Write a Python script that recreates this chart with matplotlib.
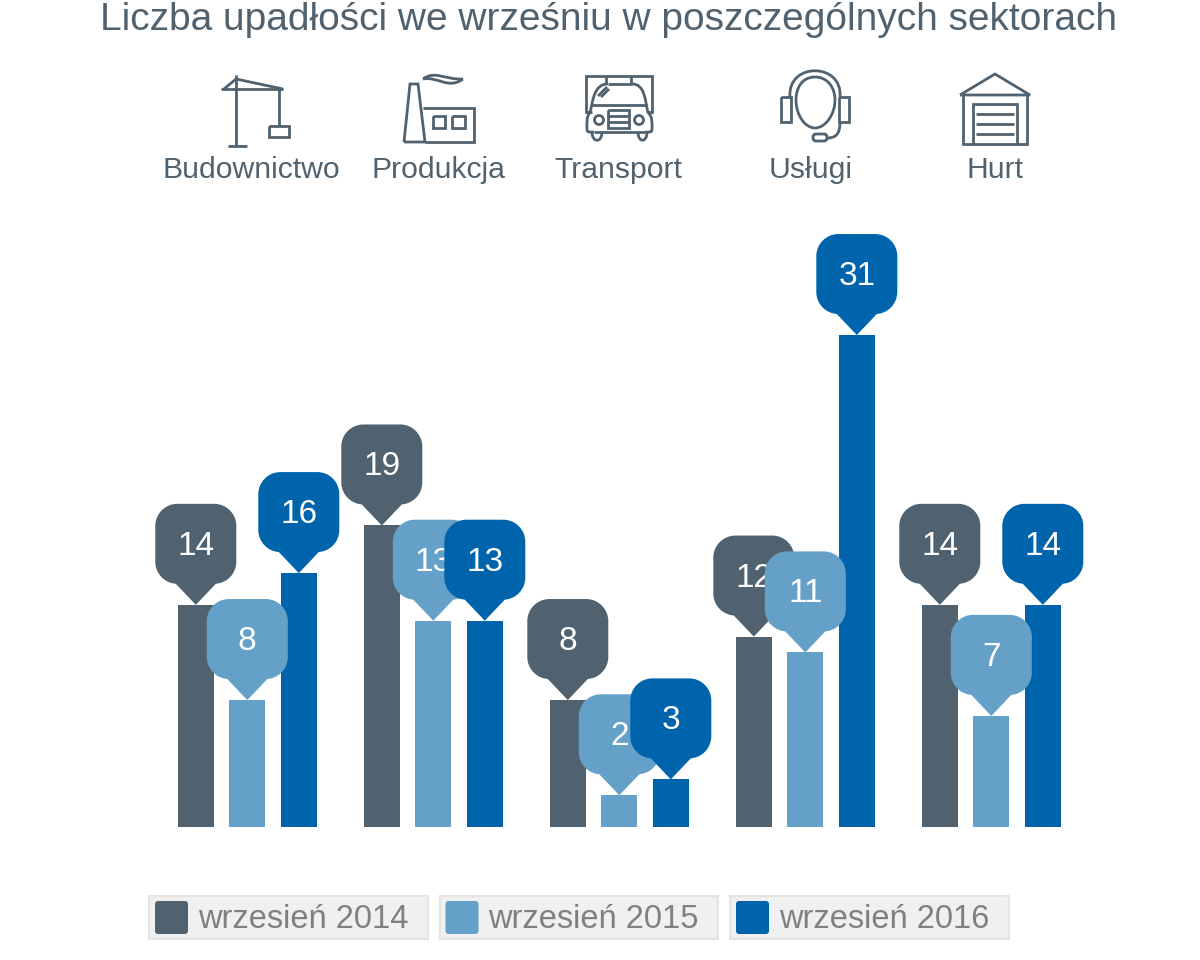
import matplotlib
matplotlib.use('Agg')
import matplotlib.pyplot as plt
import numpy as np
from matplotlib.patches import PathPatch, FancyBboxPatch, Rectangle, Circle
from matplotlib.path import Path
from matplotlib.transforms import Affine2D

plt.rcParams['font.family'] = ['Liberation Sans', 'DejaVu Sans']

title = 'Liczba upadłości we wrześniu w poszczególnych sektorach'
sectors = ['Budownictwo', 'Produkcja', 'Transport', 'Usługi', 'Hurt']
series_names = ['wrzesień 2014', 'wrzesień 2015', 'wrzesień 2016']
values_2014 = [14, 19, 8, 12, 14]
values_2015 = [8, 13, 2, 11, 7]
values_2016 = [16, 13, 3, 31, 14]

DARK = '#50626f'
LIGHT = '#65a0c9'
BLUE = '#0064ad'
series_colors = [DARK, LIGHT, BLUE]
LW = 2.0

W, H = 1200, 960
fig = plt.figure(figsize=(W / 100, H / 100), dpi=100)

# overlay in pixel coordinates for icons, title, legend
deco = fig.add_axes([0, 0, 1, 1], zorder=3)
deco.set_xlim(0, W)
deco.set_ylim(H, 0)
deco.axis('off')
deco.patch.set_alpha(0)

# bar axes: 5 bands of 186 px from x=154, zero line at y=827
ax = fig.add_axes([154.3 / W, (H - 827) / H, 930 / W, 627 / H], zorder=1)
ax.set_xlim(-0.5, 4.5)
ax.set_ylim(0, 627 / 15.87)
ax.axis('off')
ax.patch.set_alpha(0)

bar_w = 36 / 186
step = 51.5 / 186
x = np.arange(len(sectors))
all_values = [values_2014, values_2015, values_2016]


def pin_path():
    # speech-bubble marker, origin at the tip, units are pixels, y up
    hw, b, t, r = 40.5, 21, 101, 22
    k = 0.45 * r
    verts = [(0, 0), (-20, b),
             (-hw + r, b), (-hw + k, b), (-hw, b + k), (-hw, b + r),
             (-hw, t - r), (-hw, t - k), (-hw + k, t), (-hw + r, t),
             (hw - r, t), (hw - k, t), (hw, t - k), (hw, t - r),
             (hw, b + r), (hw, b + k), (hw - k, b), (hw - r, b),
             (20, b), (0, 0)]
    codes = [Path.MOVETO, Path.LINETO,
             Path.LINETO, Path.CURVE4, Path.CURVE4, Path.CURVE4,
             Path.LINETO, Path.CURVE4, Path.CURVE4, Path.CURVE4,
             Path.LINETO, Path.CURVE4, Path.CURVE4, Path.CURVE4,
             Path.LINETO, Path.CURVE4, Path.CURVE4, Path.CURVE4,
             Path.LINETO, Path.CLOSEPOLY]
    return Path(verts, codes)


for s, vals in enumerate(all_values):
    ax.bar(x + (s - 1) * step, vals, width=bar_w, color=series_colors[s], zorder=1)

PIN = pin_path()
for s, vals in enumerate(all_values):
    for i, v in enumerate(vals):
        px, py = ax.transData.transform((x[i] + (s - 1) * step, v))
        pin = PathPatch(PIN, facecolor=series_colors[s], edgecolor='none',
                        transform=Affine2D().translate(px, py), zorder=2 + s)
        ax.add_patch(pin)
        ax.annotate(str(v), (x[i] + (s - 1) * step, v), xytext=(0, 58.5 * 0.72),
                    textcoords='offset points', ha='center', va='center',
                    color='white', fontsize=24, zorder=2 + s, annotation_clip=False)

deco.text(608, 20.5, title, ha='center', va='center', fontsize=28, color=DARK)
for cx, name in zip([251, 438, 618, 811, 995], sectors):
    deco.text(cx, 170, name, ha='center', va='center', fontsize=21.7, color=DARK)


def line(xs, ys, **kw):
    deco.plot(xs, ys, color=DARK, lw=LW, solid_capstyle='butt', solid_joinstyle='miter', **kw)


def box(x0, y0, x1, y1):
    line([x0, x1, x1, x0, x0], [y0, y0, y1, y1, y0])


def curve(verts):
    codes = [Path.MOVETO] + [Path.CURVE4] * (len(verts) - 1)
    deco.add_patch(PathPatch(Path(verts, codes), fc='none', ec=DARK, lw=LW))


# crane
line([236, 236], [75, 146])
line([228, 247], [146, 146])
line([221, 283], [89, 89])
line([224, 236, 283], [89, 79, 89])
line([279, 279], [89, 126])
box(269, 126, 289, 137)

# factory
line([404, 410, 418, 425, 404], [142, 84, 84, 142, 142])
line([423, 474, 474, 425], [108, 108, 142, 142])
box(433, 116, 445, 128)
box(452, 116, 465, 128)
curve([(423, 79), (435, 70), (445, 80), (463, 79)])
curve([(423, 79), (438, 76), (448, 90), (463, 79)])

# truck
line([592, 586, 586, 652, 652, 647], [112, 112, 76, 76, 112, 112])
line([606, 606], [76, 84])
line([631, 631], [76, 84])
curve([(590, 113), (593, 100), (594, 84), (608, 84)])
curve([(648, 113), (645, 100), (645, 84), (632, 84)])
line([608, 632], [84, 84])
line([592, 647], [105, 105])
line([598, 607], [96, 87])
line([601, 609], [97, 89])
curve([(590, 113), (586, 116), (587, 124), (587, 129)])
curve([(648, 113), (653, 116), (652, 124), (652, 129)])
curve([(587, 129), (587, 133), (590, 132), (594, 132)])
curve([(652, 129), (652, 133), (649, 132), (645, 132)])
line([594, 645], [132, 132])
curve([(592, 132), (592, 143), (602, 143), (602, 132)])
curve([(638, 132), (638, 143), (647, 143), (647, 132)])
deco.add_patch(Circle((599, 120), 4.5, fc='none', ec=DARK, lw=LW))
deco.add_patch(Circle((639, 120), 4.5, fc='none', ec=DARK, lw=LW))
box(608, 110, 629, 128)
line([608, 629], [116, 116])
line([608, 629], [122, 122])

# headset
curve([(790, 97), (787, 62), (843, 62), (840, 97)])
curve([(815, 77), (802, 77), (796, 88), (796, 100)])
curve([(796, 100), (796, 115), (805, 128), (815, 128)])
curve([(815, 77), (828, 77), (835, 88), (835, 100)])
curve([(835, 100), (835, 115), (825, 128), (815, 128)])
box(781, 97, 791, 122)
box(839, 97, 849, 122)
curve([(840, 122), (840, 134), (836, 138), (827, 138)])
deco.add_patch(FancyBboxPatch((813, 134), 14, 7, boxstyle='round,pad=0,rounding_size=3',
                              fc='none', ec=DARK, lw=LW))

# warehouse
line([960, 995, 1030, 960], [95, 74, 95, 95])
line([963, 963, 1027, 1027], [95, 144, 144, 95])
line([973, 973, 1017, 1017], [144, 104, 104, 144])
for sy in [114, 124, 134]:
    line([976, 1014], [sy, sy])

# legend built by hand, boxes sit apart like the original
for lx, name, col in zip([149, 439.5, 730], series_names, series_colors):
    deco.add_patch(Rectangle((lx, 895.5), 278.5, 43.5, fc='#f0f0f0', ec='#e4e4e4', lw=1.5))
    deco.add_patch(FancyBboxPatch((lx + 6, 901), 33, 33, boxstyle='round,pad=0,rounding_size=3',
                                  fc=col, ec='none'))
    deco.text(lx + 49, 919, name, ha='left', va='center', fontsize=23.5, color='#808080')

fig.savefig('out.png', dpi=100)
